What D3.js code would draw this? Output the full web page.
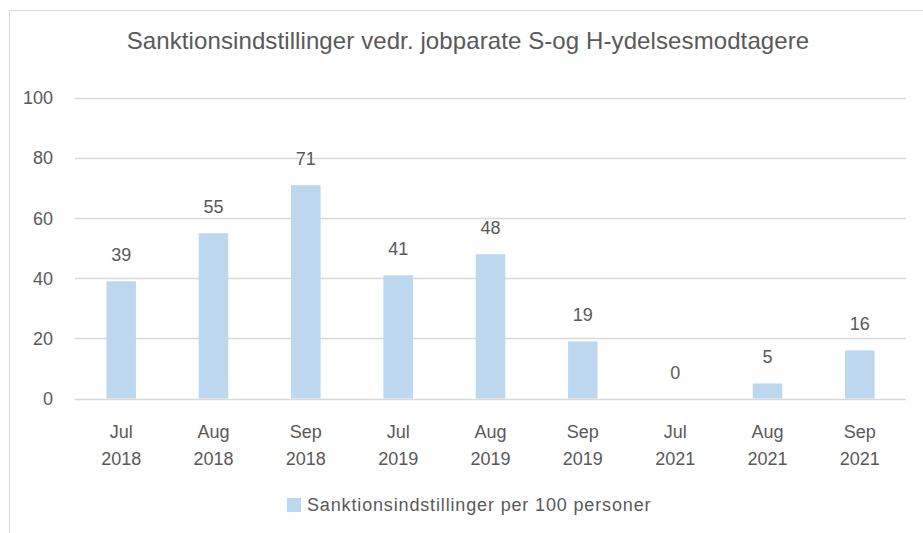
<!DOCTYPE html>
<html>
<head>
<meta charset="utf-8">
<script src="https://cdn.jsdelivr.net/npm/d3@7"></script>
<style>
  body { margin: 0; background: #fff; }
  text { font-family: "Liberation Sans", sans-serif; fill: #595959; }
</style>
</head>
<body>
<div id="chart"></div>
<script>
// data
const months = ["Jul", "Aug", "Sep", "Jul", "Aug", "Sep", "Jul", "Aug", "Sep"];
const years = ["2018", "2018", "2018", "2019", "2019", "2019", "2021", "2021", "2021"];
const values = [39, 55, 71, 41, 48, 19, 0, 5, 16];
const yTicks = [0, 20, 40, 60, 80, 100];
const title = "Sanktionsindstillinger vedr. jobparate S-og H-ydelsesmodtagere";
const seriesName = "Sanktionsindstillinger per 100 personer";

const width = 923, height = 533;
const barColor = "#bdd7ee", gridColor = "#d9d9d9";

const svg = d3.select("#chart").append("svg")
    .attr("width", width)
    .attr("height", height);

// chart frame (right and bottom edges run off the picture)
svg.append("rect")
    .attr("x", 9.5).attr("y", 10.5)
    .attr("width", 940).attr("height", 560)
    .style("fill", "#fff")
    .style("stroke", gridColor);

svg.append("text")
    .attr("x", 468).attr("y", 49)
    .attr("text-anchor", "middle")
    .style("font-size", "24px")
    .style("letter-spacing", "0.1px")
    .text(title);

const idx = values.map((d, i) => i);
const x = d3.scaleBand()
    .domain(idx)
    .range([75, 906])
    .paddingInner(0.68)
    .paddingOuter(0.34);

const y = d3.scaleLinear()
    .domain([0, 100])
    .range([398.5, 98]);

// gridlines
svg.append("g")
    .selectAll("line")
    .data(yTicks)
    .enter().append("line")
    .attr("x1", 75).attr("x2", 906)
    .attr("y1", d => Math.round(y(d)) + 0.5)
    .attr("y2", d => Math.round(y(d)) + 0.5)
    .style("stroke", gridColor)
    .style("stroke-width", 1.3);

// y labels
svg.append("g")
    .selectAll("text")
    .data(yTicks)
    .enter().append("text")
    .attr("x", 53)
    .attr("y", d => y(d))
    .attr("dy", "0.35em")
    .attr("text-anchor", "end")
    .style("font-size", "18px")
    .text(d => d);

// bars
svg.append("g")
    .selectAll("rect")
    .data(values)
    .enter().append("rect")
    .attr("x", (d, i) => x(i))
    .attr("width", x.bandwidth())
    .attr("y", d => y(d))
    .attr("height", d => y(0) - y(d))
    .style("fill", barColor);

// value labels
svg.append("g")
    .selectAll("text")
    .data(values)
    .enter().append("text")
    .attr("x", (d, i) => x(i) + x.bandwidth() / 2)
    .attr("y", d => y(d) - 20)
    .attr("text-anchor", "middle")
    .style("font-size", "18px")
    .text(d => d);

// category labels, two lines
const cat = svg.append("g")
    .selectAll("text")
    .data(idx)
    .enter().append("text")
    .attr("text-anchor", "middle")
    .style("font-size", "18px");
cat.append("tspan")
    .attr("x", i => x(i) + x.bandwidth() / 2)
    .attr("y", 438)
    .text(i => months[i]);
cat.append("tspan")
    .attr("x", i => x(i) + x.bandwidth() / 2)
    .attr("y", 465)
    .text(i => years[i]);

// legend
svg.append("rect")
    .attr("x", 287).attr("y", 498)
    .attr("width", 14).attr("height", 14)
    .style("fill", barColor);
svg.append("text")
    .attr("x", 307).attr("y", 505)
    .attr("dy", "0.35em")
    .style("font-size", "18px")
    .style("letter-spacing", "0.85px")
    .text(seriesName);
</script>
</body>
</html>
